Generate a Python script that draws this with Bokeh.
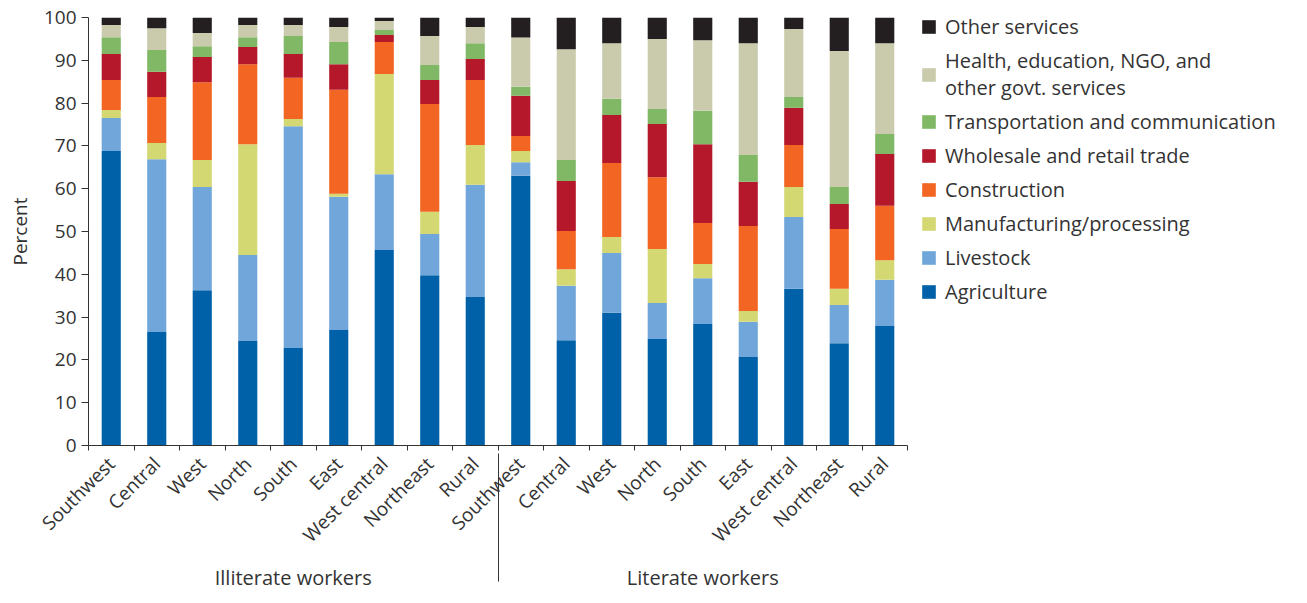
from math import pi
from bokeh.plotting import figure
from bokeh.models import (FactorRange, Range1d, LinearAxis, CategoricalAxis, FixedTicker,
                          Legend, LegendItem, ColumnDataSource)
from bokeh.embed import file_html
from bokeh.resources import INLINE

groups = ["Illiterate workers", "Literate workers"]
regions = ["Southwest", "Central", "West", "North", "South", "East", "West central", "Northeast", "Rural"]

# values per bar: Illiterate (9 regions) then Literate (9 regions)
agriculture   = [68.8, 26.5, 36.3, 24.4, 22.8, 27.0, 45.7, 39.8, 34.7,
                 63.0, 24.6, 31.0, 24.9, 28.4, 20.7, 36.6, 23.9, 27.9]
livestock     = [7.7, 40.4, 24.1, 20.1, 51.8, 31.1, 17.7, 9.6, 26.2,
                 3.2, 12.7, 14.0, 8.4, 10.7, 8.2, 16.8, 8.9, 10.8]
manufacturing = [1.9, 3.8, 6.3, 25.9, 1.7, 0.7, 23.4, 5.2, 9.3,
                 2.6, 3.9, 3.7, 12.6, 3.3, 2.5, 7.0, 3.8, 4.6]
construction  = [7.0, 10.7, 18.2, 18.7, 9.6, 24.3, 7.5, 25.2, 15.2,
                 3.5, 8.9, 17.3, 16.8, 9.6, 19.9, 9.8, 14.0, 12.7]
trade         = [6.1, 5.9, 5.9, 4.0, 5.6, 6.0, 1.6, 5.6, 4.9,
                 9.4, 11.7, 11.2, 12.4, 18.4, 10.3, 8.7, 5.8, 12.1]
transport     = [3.9, 5.1, 2.5, 2.3, 4.2, 5.2, 1.2, 3.5, 3.7,
                 2.1, 4.9, 3.8, 3.5, 7.8, 6.3, 2.5, 4.0, 4.7]
health        = [2.85, 5.1, 3.1, 2.85, 2.55, 3.5, 2.1, 6.8, 3.8,
                 11.5, 25.9, 13.0, 16.4, 16.5, 26.1, 15.9, 31.8, 21.2]
other         = [1.75, 2.5, 3.6, 1.75, 1.75, 2.2, 0.8, 4.3, 2.2,
                 4.7, 7.4, 6.0, 5.0, 5.3, 6.0, 2.7, 7.8, 6.0]

series_keys = ["agriculture", "livestock", "manufacturing", "construction",
               "trade", "transport", "health", "other"]
series_names = ["Agriculture", "Livestock", "Manufacturing/processing", "Construction",
                "Wholesale and retail trade", "Transportation and communication",
                "Health, education, NGO, and\nother govt. services", "Other services"]
colors = ["#0061A8", "#70A6D9", "#D4D873", "#F26522", "#B5182A", "#80B866", "#C9CBAC", "#231F20"]

factors = [(g, r) for g in groups for r in regions]
source = ColumnDataSource(dict(x=factors, agriculture=agriculture, livestock=livestock,
                               manufacturing=manufacturing, construction=construction,
                               trade=trade, transport=transport, health=health, other=other))

TXT = "#333333"
FONT = "Open Sans"
nbars = len(factors)

p = figure(x_range=FactorRange(*factors, group_padding=0, factor_padding=0, range_padding=0),
           y_range=Range1d(0, 100), frame_width=819, frame_height=428,
           output_backend="svg", toolbar_location=None, x_axis_location=None,
           min_border_left=88, min_border_top=17, min_border_bottom=158, min_border_right=385)
p.outline_line_color = None
p.xgrid.grid_line_color = None
p.ygrid.grid_line_color = None

renderers = p.vbar_stack(series_keys, x="x", width=0.42, color=colors, source=source, line_width=0)

# y axis
ya = p.yaxis[0]
ya.ticker = FixedTicker(ticks=list(range(0, 101, 10)))
ya.axis_label = "Percent"
ya.axis_label_text_font = FONT
ya.axis_label_text_font_style = "normal"
ya.axis_label_text_font_size = "19px"
ya.axis_label_text_color = TXT
ya.major_label_text_font = FONT
ya.major_label_text_font_size = "19px"
ya.major_label_text_color = TXT
ya.axis_line_color = TXT
ya.major_tick_line_color = TXT
ya.major_tick_out = 7
ya.major_tick_in = 0
ya.minor_tick_line_color = None
ya.axis_label_standoff = 8

# x axis line with short ticks at category boundaries
tick_axis = LinearAxis(ticker=FixedTicker(ticks=list(range(nbars + 1))),
                       major_label_text_font_size="0px", major_label_text_color=None,
                       major_label_standoff=0,
                       major_tick_out=5, major_tick_in=0,
                       axis_line_color=TXT, major_tick_line_color=TXT,
                       minor_tick_line_color=None)
p.add_layout(tick_axis, "below")

# region names, group names and the separator between the two groups
cat_axis = CategoricalAxis(axis_line_color=None, major_tick_line_color=None,
                           minor_tick_line_color=None,
                           major_label_orientation=pi / 4,
                           major_label_text_font=FONT, major_label_text_font_size="19px",
                           major_label_text_color=TXT, major_label_standoff=4,
                           group_text_font=FONT, group_text_font_size="20px",
                           group_text_color=TXT, group_text_font_style="normal",
                           separator_line_color=TXT, separator_line_width=1)
p.add_layout(cat_axis, "below")

items = [LegendItem(label=series_names[i], renderers=[renderers[i]]) for i in range(7, -1, -1)]
legend = Legend(items=items, location=(13, 140), glyph_width=17, glyph_height=17,
                label_text_font=FONT, label_text_font_size="20px", label_text_color=TXT,
                label_standoff=8, spacing=7, padding=0, margin=0,
                border_line_color=None, background_fill_alpha=0)
p.add_layout(legend, "right")

open("out.html", "w").write(file_html(p, INLINE))
